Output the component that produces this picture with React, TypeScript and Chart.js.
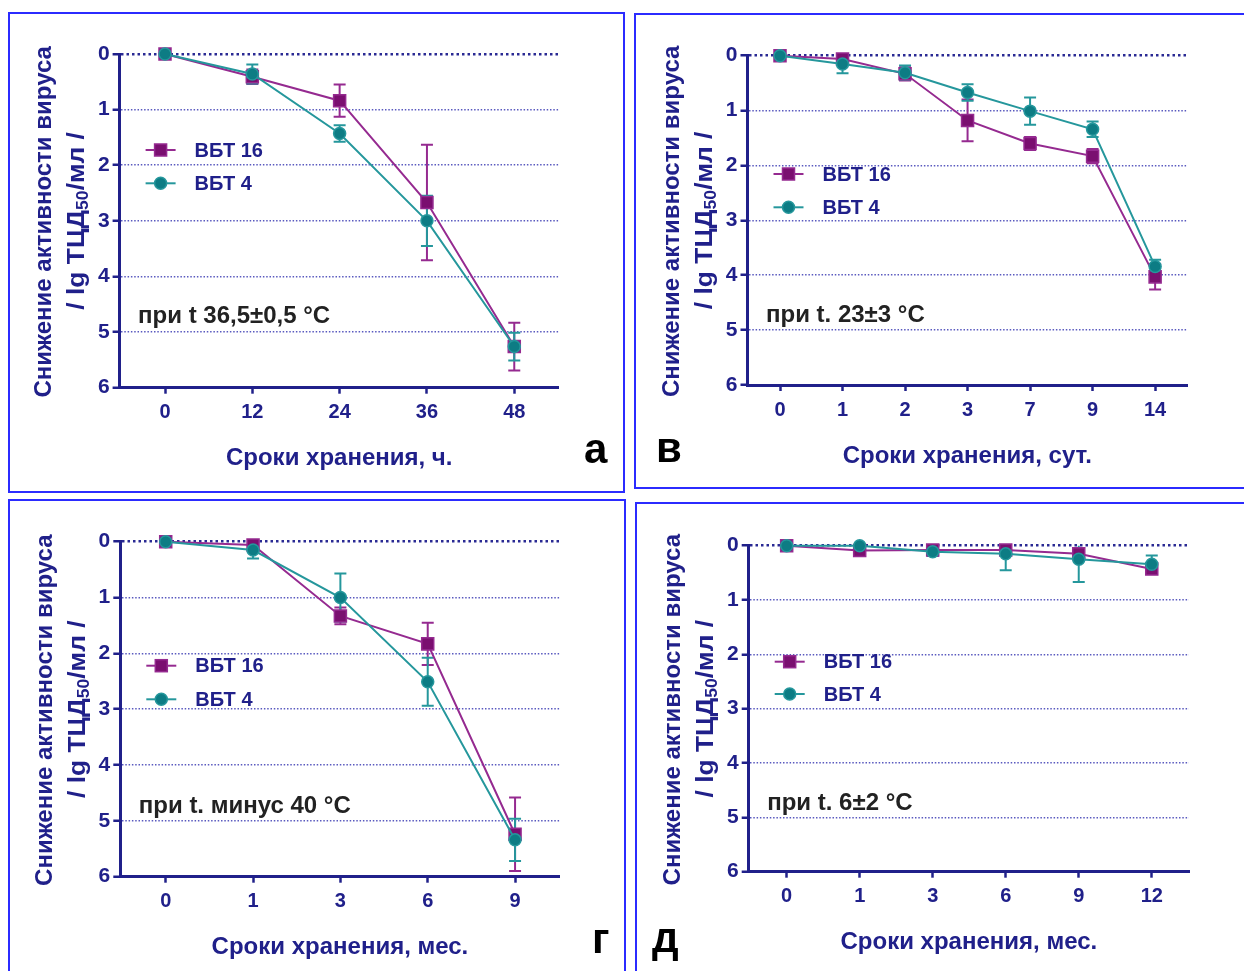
import React, { useEffect, useRef } from 'react';
import { Chart, registerables } from 'chart.js';

Chart.register(...registerables);

const FONT = '"Liberation Sans", Arial, sans-serif';
const NAVY = '#20208a';
const PURPLE = '#952a90';
const PURPLE_DARK = '#7a0f70';
const TEAL = '#25979c';
const TEAL_DARK = '#0d7c84';

const SERIES_16 = 'ВБТ 16';
const SERIES_4 = 'ВБТ 4';
const Y_TITLE_1 = 'Снижение активности вируса';

// Panel а — hours at 36.5 °C
const hoursLabels = ['0', '12', '24', '36', '48'];
const hoursVbt16 = [0, 0.41, 0.84, 2.67, 5.26];
const hoursVbt16Err = [0.02, 0.13, 0.29, 1.04, 0.43];
const hoursVbt4 = [0, 0.36, 1.43, 3.0, 5.26];
const hoursVbt4Err = [0.02, 0.17, 0.15, 0.45, 0.25];

// Panel в — days at 23 °C
const daysLabels = ['0', '1', '2', '3', '7', '9', '14'];
const daysVbt16 = [0, 0.06, 0.33, 1.18, 1.6, 1.83, 4.03];
const daysVbt16Err = [0.02, 0.05, 0.12, 0.38, 0.12, 0.13, 0.23];
const daysVbt4 = [0, 0.15, 0.31, 0.67, 1.01, 1.34, 3.84];
const daysVbt4Err = [0.02, 0.17, 0.13, 0.15, 0.25, 0.14, 0.12];

// Panel г — months at minus 40 °C
const frozenLabels = ['0', '1', '3', '6', '9'];
const frozenVbt16 = [0, 0.06, 1.33, 1.83, 5.24];
const frozenVbt16Err = [0.02, 0.05, 0.15, 0.38, 0.66];
const frozenVbt4 = [0, 0.15, 1.0, 2.51, 5.34];
const frozenVbt4Err = [0.02, 0.15, 0.43, 0.43, 0.38];

// Panel д — months at 6 °C
const coldLabels = ['0', '1', '3', '6', '9', '12'];
const coldVbt16 = [0, 0.09, 0.08, 0.08, 0.15, 0.43];
const coldVbt16Err = [0.02, 0.08, 0.06, 0.05, 0.1, 0.08];
const coldVbt4 = [0, 0.0, 0.11, 0.15, 0.25, 0.34];
const coldVbt4Err = [0.02, 0.03, 0.08, 0.3, 0.42, 0.16];

const yTicks = [0, 1, 2, 3, 4, 5, 6];

type PanelCfg = {
  box: { left: number; top: number; width: number; height: number };
  area: { left: number; top: number; right: number; bottom: number };
  labels: string[];
  s16: number[];
  e16: number[];
  s4: number[];
  e4: number[];
  xTitle: string;
  note: string;
  noteDy: number;
  legendDy: [number, number];
  letter: string;
  letterPos: { x: number; y: number };
};

const PANELS: PanelCfg[] = [
  {
    box: { left: 8, top: 12, width: 617, height: 481 },
    area: { left: 119.6, top: 54, right: 558.8, bottom: 387.7 },
    labels: hoursLabels, s16: hoursVbt16, e16: hoursVbt16Err, s4: hoursVbt4, e4: hoursVbt4Err,
    xTitle: 'Сроки хранения, ч.', note: 'при t 36,5±0,5 °C', noteDy: 262.7,
    legendDy: [96, 129.3], letter: 'а', letterPos: { x: 584, y: 463 },
  },
  {
    box: { left: 634, top: 13, width: 620, height: 476 },
    area: { left: 747.5, top: 55.7, right: 1187, bottom: 385 },
    labels: daysLabels, s16: daysVbt16, e16: daysVbt16Err, s4: daysVbt4, e4: daysVbt4Err,
    xTitle: 'Сроки хранения, сут.', note: 'при t. 23±3 °C', noteDy: 259.3,
    legendDy: [118.3, 151.6], letter: 'в', letterPos: { x: 656, y: 462 },
  },
  {
    box: { left: 8, top: 499, width: 618, height: 480 },
    area: { left: 120.3, top: 541.7, right: 559.6, bottom: 876.7 },
    labels: frozenLabels, s16: frozenVbt16, e16: frozenVbt16Err, s4: frozenVbt4, e4: frozenVbt4Err,
    xTitle: 'Сроки хранения, мес.', note: 'при t. минус 40 °C', noteDy: 265,
    legendDy: [124, 157.6], letter: 'г', letterPos: { x: 592, y: 953 },
  },
  {
    box: { left: 635, top: 502, width: 620, height: 480 },
    area: { left: 748.7, top: 545.7, right: 1189, bottom: 871.7 },
    labels: coldLabels, s16: coldVbt16, e16: coldVbt16Err, s4: coldVbt4, e4: coldVbt4Err,
    xTitle: 'Сроки хранения, мес.', note: 'при t. 6±2 °C', noteDy: 257.6,
    legendDy: [116, 148.3], letter: 'д', letterPos: { x: 652, y: 952 },
  },
];

function drawSquare(ctx: CanvasRenderingContext2D, x: number, y: number, half: number) {
  ctx.save();
  ctx.fillStyle = PURPLE_DARK;
  ctx.strokeStyle = PURPLE;
  ctx.lineWidth = 1.5;
  ctx.fillRect(x - half, y - half, half * 2, half * 2);
  ctx.strokeRect(x - half, y - half, half * 2, half * 2);
  ctx.restore();
}

function drawCircle(ctx: CanvasRenderingContext2D, x: number, y: number, r: number) {
  ctx.save();
  ctx.fillStyle = TEAL_DARK;
  ctx.strokeStyle = TEAL;
  ctx.lineWidth = 1.5;
  ctx.beginPath();
  ctx.arc(x, y, r, 0, Math.PI * 2);
  ctx.fill();
  ctx.stroke();
  ctx.restore();
}

function Panel({ cfg }: { cfg: PanelCfg }) {
  const ref = useRef<HTMLCanvasElement | null>(null);
  const ox = cfg.box.left + 2;
  const oy = cfg.box.top + 2;
  const cw = cfg.box.width - 4;
  const ch = cfg.box.height - 4;

  useEffect(() => {
    if (!ref.current) return;
    const a = {
      left: cfg.area.left - ox,
      top: cfg.area.top - oy,
      right: cfg.area.right - ox,
      bottom: cfg.area.bottom - oy,
    };
    const n = cfg.labels.length;
    const toPts = (arr: number[]) => arr.map((v, i) => ({ x: i, y: v }));

    const decor = {
      id: 'decor',
      beforeDatasetsDraw(chart: any) {
        const { ctx, chartArea, scales } = chart;
        const xs = scales.x;
        const ys = scales.y;
        ctx.save();
        ctx.beginPath();
        ctx.rect(chartArea.left - 20, chartArea.top, chartArea.right - chartArea.left + 40, chartArea.bottom - chartArea.top + 20);
        ctx.clip();
        const bars = [
          { m: cfg.s16, e: cfg.e16, c: PURPLE },
          { m: cfg.s4, e: cfg.e4, c: TEAL },
        ];
        for (const b of bars) {
          ctx.strokeStyle = b.c;
          ctx.lineWidth = 2;
          b.m.forEach((v, i) => {
            const x = xs.getPixelForValue(i);
            const y1 = ys.getPixelForValue(v - b.e[i]);
            const y2 = ys.getPixelForValue(v + b.e[i]);
            ctx.beginPath();
            ctx.moveTo(x, y1);
            ctx.lineTo(x, y2);
            ctx.moveTo(x - 6, y1);
            ctx.lineTo(x + 6, y1);
            ctx.moveTo(x - 6, y2);
            ctx.lineTo(x + 6, y2);
            ctx.stroke();
          });
        }
        ctx.restore();
      },
      afterDraw(chart: any) {
        const { ctx, chartArea } = chart;
        const L = chartArea.left;
        const T = chartArea.top;
        const cy = (chartArea.top + chartArea.bottom) / 2;
        const cx = (chartArea.left + chartArea.right) / 2;
        ctx.save();
        // Y title line 1
        ctx.fillStyle = NAVY;
        ctx.font = `bold 24px ${FONT}`;
        ctx.textAlign = 'center';
        ctx.textBaseline = 'middle';
        ctx.save();
        ctx.translate(L - 75, cy + 1);
        ctx.rotate(-Math.PI / 2);
        ctx.fillText(Y_TITLE_1, 0, 0);
        ctx.restore();
        // Y title line 2 with subscript
        ctx.save();
        ctx.translate(L - 42, cy);
        ctx.rotate(-Math.PI / 2);
        ctx.scale(1.1, 1);
        ctx.textAlign = 'left';
        const big = `bold 24px ${FONT}`;
        const small = `bold 16px ${FONT}`;
        const parts: [string, string, number][] = [
          ['/ lg ТЦД', big, 0],
          ['50', small, 6],
          ['/мл /', big, 0],
        ];
        let total = 0;
        for (const p of parts) {
          ctx.font = p[1];
          total += ctx.measureText(p[0]).width;
        }
        let px = -total / 2;
        for (const p of parts) {
          ctx.font = p[1];
          ctx.fillText(p[0], px, p[2]);
          px += ctx.measureText(p[0]).width;
        }
        ctx.restore();
        // X title
        ctx.font = `bold 24px ${FONT}`;
        ctx.textAlign = 'center';
        ctx.fillText(cfg.xTitle, cx, chartArea.bottom + 71);
        // Legend
        const rows = [
          { label: SERIES_16, color: PURPLE, dy: cfg.legendDy[0], sq: true },
          { label: SERIES_4, color: TEAL, dy: cfg.legendDy[1], sq: false },
        ];
        for (const r of rows) {
          const y = T + r.dy;
          ctx.strokeStyle = r.color;
          ctx.lineWidth = 2;
          ctx.beginPath();
          ctx.moveTo(L + 26, y);
          ctx.lineTo(L + 56, y);
          ctx.stroke();
          if (r.sq) drawSquare(ctx, L + 41, y, 6);
          else drawCircle(ctx, L + 41, y, 6);
          ctx.fillStyle = NAVY;
          ctx.font = `bold 20px ${FONT}`;
          ctx.textAlign = 'left';
          ctx.textBaseline = 'middle';
          ctx.fillText(r.label, L + 75, y + 1);
        }
        // Note
        ctx.fillStyle = '#222222';
        ctx.font = `bold 24px ${FONT}`;
        ctx.textAlign = 'left';
        ctx.textBaseline = 'middle';
        ctx.fillText(cfg.note, L + 18.5, T + cfg.noteDy);
        // Panel letter
        ctx.fillStyle = '#000000';
        ctx.font = `bold 42px ${FONT}`;
        ctx.textBaseline = 'alphabetic';
        ctx.fillText(cfg.letter, cfg.letterPos.x - ox, cfg.letterPos.y - oy);
        ctx.restore();
      },
    };

    const chart = new Chart(ref.current, {
      type: 'line',
      data: {
        datasets: [
          {
            label: SERIES_16,
            data: toPts(cfg.s16),
            borderColor: PURPLE,
            backgroundColor: PURPLE_DARK,
            pointBackgroundColor: PURPLE_DARK,
            pointBorderColor: PURPLE,
            pointBorderWidth: 1.5,
            pointStyle: 'rect',
            pointRadius: 8.5,
            borderWidth: 2,
            tension: 0,
            clip: false,
            order: 2,
          },
          {
            label: SERIES_4,
            data: toPts(cfg.s4),
            borderColor: TEAL,
            backgroundColor: TEAL_DARK,
            pointBackgroundColor: TEAL_DARK,
            pointBorderColor: TEAL,
            pointBorderWidth: 1.5,
            pointStyle: 'circle',
            pointRadius: 6,
            borderWidth: 2,
            tension: 0,
            clip: false,
            order: 1,
          },
        ],
      },
      options: {
        responsive: false,
        animation: false,
        events: [],
        layout: { padding: { left: 0, top: a.top, right: cw - a.right, bottom: 0 } },
        plugins: { legend: { display: false }, tooltip: { enabled: false } },
        scales: {
          x: {
            type: 'linear',
            min: -0.52,
            max: n - 1 + 0.51,
            afterBuildTicks: (s: any) => {
              s.ticks = cfg.labels.map((_, i) => ({ value: i }));
            },
            afterFit: (s: any) => {
              s.height = ch - a.bottom;
            },
            ticks: {
              autoSkip: false,
              maxRotation: 0,
              padding: 7,
              color: NAVY,
              font: { family: FONT, size: 20, weight: 'bold' },
              callback: (v: any) => cfg.labels[v as number] ?? '',
            },
            grid: {
              drawOnChartArea: false,
              drawTicks: true,
              tickLength: 6,
              tickColor: NAVY,
              tickWidth: 2.5,
            },
            border: { color: NAVY, width: 3 },
          },
          y: {
            type: 'linear',
            reverse: true,
            min: 0,
            max: 6,
            afterBuildTicks: (s: any) => {
              s.ticks = yTicks.map((v) => ({ value: v }));
            },
            afterFit: (s: any) => {
              s.width = a.left;
            },
            ticks: {
              padding: 3,
              color: NAVY,
              font: { family: FONT, size: 21, weight: 'bold' },
            },
            grid: {
              color: (c: any) => (c.index === 0 ? '#2a2a94' : c.index === 6 ? 'rgba(0,0,0,0)' : '#5a5abf'),
              lineWidth: (c: any) => (c.index === 0 ? 2.5 : 1.5),
              tickLength: 7,
              tickColor: NAVY,
              tickWidth: 2.5,
              tickBorderDash: [],
            },
            border: {
              color: NAVY,
              width: 3,
              dash: (c: any) => (c.index === 0 ? [2.5, 3] : [1.5, 1.8]),
            },
          },
        },
      },
      plugins: [decor],
    } as any);
    return () => chart.destroy();
  }, []);

  return (
    <div
      style={{
        position: 'absolute',
        left: cfg.box.left,
        top: cfg.box.top,
        width: cfg.box.width,
        height: cfg.box.height,
        border: '2px solid #2b2bff',
        boxSizing: 'border-box',
        background: '#fff',
      }}
    >
      <canvas ref={ref} width={cw} height={ch} style={{ display: 'block', width: cw, height: ch }} />
    </div>
  );
}

export default function App() {
  return (
    <div
      style={{
        position: 'absolute',
        left: 0,
        top: 0,
        width: 1244,
        height: 971,
        overflow: 'hidden',
        background: '#fff',
      }}
    >
      {PANELS.map((p, i) => (
        <Panel key={i} cfg={p} />
      ))}
    </div>
  );
}
